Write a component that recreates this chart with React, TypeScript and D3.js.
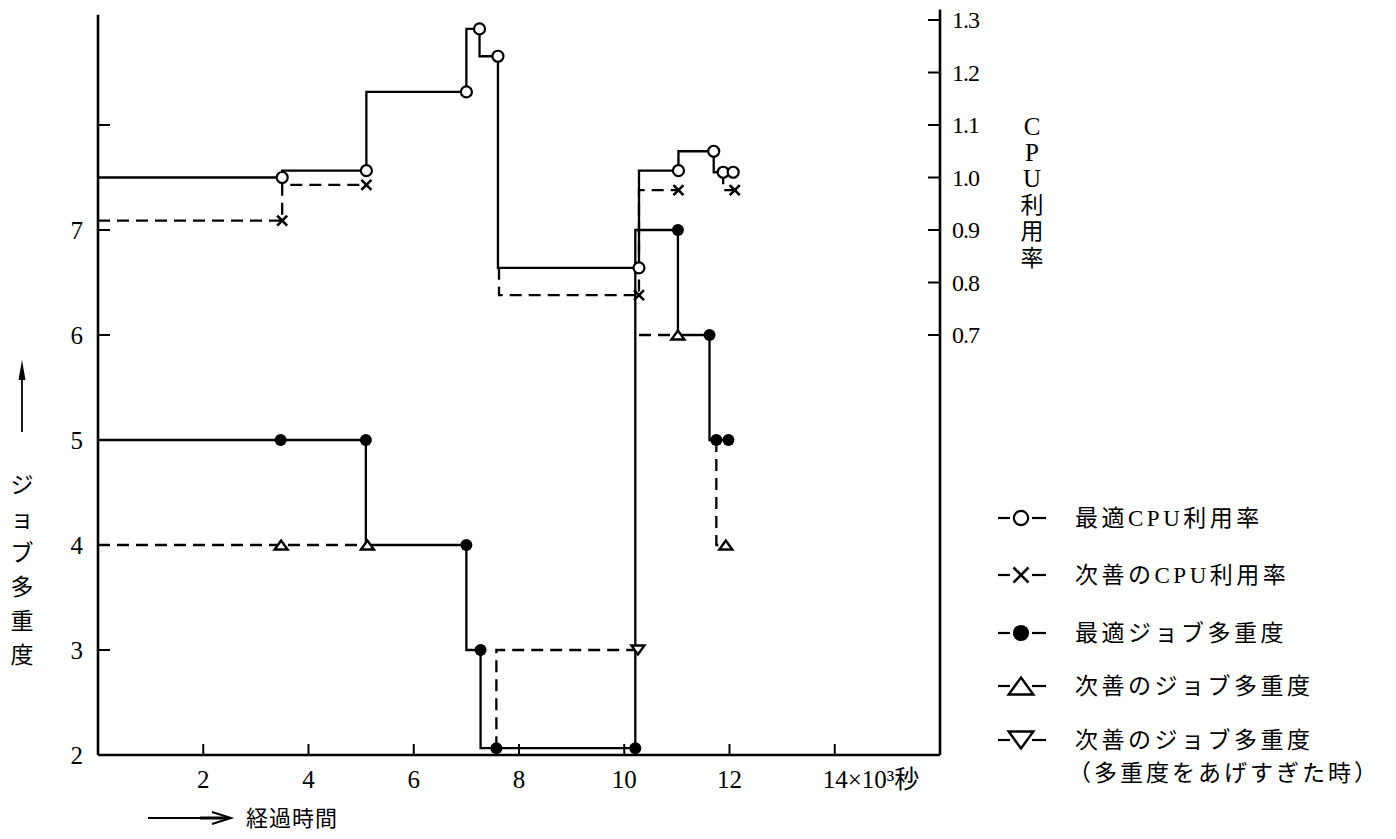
import React from 'react';
import * as d3 from 'd3';

const W = 1396;
const H = 839;

// ---- axis ticks ----
const xTickValues = [2, 4, 6, 8, 10, 12, 14];
const xTickLabels = ['2', '4', '6', '8', '10', '12', '14×10³秒'];
const jobTickValues = [3, 4, 5, 6, 7, 8];
const jobLabelValues = [2, 3, 4, 5, 6, 7];
const cpuTickValues = [0.7, 0.8, 0.9, 1.0, 1.1, 1.2, 1.3];
const cpuTickLabels = ['0.7', '0.8', '0.9', '1.0', '1.1', '1.2', '1.3'];

// ---- series: segments of [time(10^3 s), value, hasMarker] ----
type Pt = [number, number, number];

// 最適CPU利用率 (○, solid, right axis)
const cpuBest: Pt[][] = [[
  [0, 1.0, 0], [3.5, 1.0, 1], [5.1, 1.013, 1], [7.0, 1.163, 1], [7.25, 1.283, 1],
  [7.6, 1.231, 1], [10.28, 0.828, 1], [11.03, 1.013, 1], [11.7, 1.05, 1],
  [11.88, 1.01, 1], [12.07, 1.01, 1],
]];

// 次善のCPU利用率 (×, dashed, right axis)
const cpuNext: Pt[][] = [
  [[0, 0.918, 0], [3.5, 0.918, 1], [5.1, 0.986, 1]],
  [[7.62, 0.828, 0], [10.28, 0.776, 1], [11.03, 0.976, 1]],
  [[11.88, 1.01, 0], [12.1, 0.976, 1]],
];

// 最適ジョブ多重度 (●, solid, left axis)
const jobBest: Pt[][] = [[
  [0, 5, 0], [3.47, 5, 1], [5.09, 5, 1], [7.0, 4, 1], [7.27, 3, 1], [7.57, 2.065, 1],
  [10.21, 2.065, 1], [11.02, 7, 1], [11.62, 6, 1], [11.75, 5, 1], [11.98, 5, 1],
]];

// 次善のジョブ多重度 (△, dashed, left axis)
const jobNext: Pt[][] = [
  [[0, 4, 0], [3.48, 4, 1], [5.12, 4, 1]],
  [[10.28, 6, 0], [11.02, 6, 1]],
  [[11.75, 5, 0], [11.93, 4, 1]],
];

// 次善のジョブ多重度（多重度をあげすぎた時） (▽, dashed, left axis)
const jobOver: Pt[][] = [
  [[7.57, 2.065, 0], [10.26, 3, 1]],
];

const legendLabels = [
  '最適CPU利用率',
  '次善のCPU利用率',
  '最適ジョブ多重度',
  '次善のジョブ多重度',
  '次善のジョブ多重度',
];
const legendNote = '（多重度をあげすぎた時）';
const yLabelChars = ['ジ', 'ョ', 'ブ', '多', '重', '度'];
const rightLabelChars = ['C', 'P', 'U', '利', '用', '率'];
const xLabel = '経過時間';

const FONT = "'Liberation Serif', 'Noto Sans CJK JP', serif";
const JFONT = "'Liberation Serif', 'Noto Sans CJK JP', sans-serif";

const xScale = d3.scaleLinear().domain([0, 16]).range([98, 940]);
const yJob = d3.scaleLinear().domain([2, 9]).range([755, 20]);
const yCpu = d3.scaleLinear().domain([-0.1, 1.3]).range([755, 20]);

const stepPath = (y: d3.ScaleLinear<number, number>) =>
  d3.line<Pt>().x(d => xScale(d[0])).y(d => y(d[1])).curve(d3.curveStepBefore);

type Kind = 'circle' | 'cross' | 'dot' | 'tri' | 'itri';

function Marker({ kind, x, y, s = 1 }: { kind: Kind; x: number; y: number; s?: number }) {
  if (kind === 'circle') {
    return <circle cx={x} cy={y} r={5.5 * s} fill="#fff" stroke="#000" strokeWidth={2.2} />;
  }
  if (kind === 'dot') {
    return <circle cx={x} cy={y} r={6 * s} fill="#000" />;
  }
  if (kind === 'cross') {
    const a = 5 * s;
    return (
      <g stroke="#000" strokeWidth={2.6}>
        <line x1={x - a} y1={y - a} x2={x + a} y2={y + a} />
        <line x1={x - a} y1={y + a} x2={x + a} y2={y - a} />
      </g>
    );
  }
  const w = 6.5 * s;
  const h = 9 * s;
  if (kind === 'tri') {
    const p = `${x - w},${y + h / 2} ${x + w},${y + h / 2} ${x},${y - h / 2}`;
    return <polygon points={p} fill="#fff" stroke="#000" strokeWidth={2.4} strokeLinejoin="miter" />;
  }
  const p = `${x - w},${y - h / 2} ${x + w},${y - h / 2} ${x},${y + h / 2}`;
  return <polygon points={p} fill="#fff" stroke="#000" strokeWidth={2.4} strokeLinejoin="miter" />;
}

function Series({ data, y, dashed }: {
  data: Pt[][]; y: d3.ScaleLinear<number, number>; dashed: boolean;
}) {
  const gen = stepPath(y);
  return (
    <g>
      {data.map((seg, i) => (
        <path key={i} d={gen(seg) || ''} fill="none" stroke="#000" strokeWidth={2.3}
          strokeDasharray={dashed ? '12 7' : undefined} />
      ))}
    </g>
  );
}

function SeriesMarkers({ data, y, kind }: { data: Pt[][]; y: d3.ScaleLinear<number, number>; kind: Kind }) {
  return (
    <g>
      {data.flat().filter(d => d[2]).map((d, i) => (
        <Marker key={i} kind={kind} x={xScale(d[0])} y={y(d[1])} />
      ))}
    </g>
  );
}

export default function App() {
  const legendKinds: Kind[] = ['circle', 'cross', 'dot', 'tri', 'itri'];
  const legendY = [518, 575, 633, 686, 740];
  const legendScale = [1.3, 1.5, 1.35, 1.9, 1.9];
  const x0 = xScale(0);
  const x16 = xScale(16);
  const yb = yJob(2);
  return (
    <svg width={W} height={H} style={{ position: 'absolute', left: 0, top: 0, background: '#fff' }}
      fontFamily={FONT}>
      <rect x={0} y={0} width={W} height={H} fill="#fff" />
      {/* axes */}
      <g stroke="#000" strokeWidth={2.6} fill="none">
        <line x1={x0} y1={yJob(9.05)} x2={x0} y2={yb} />
        <line x1={x0} y1={yb} x2={x16} y2={yb} />
        <line x1={x16} y1={yCpu(1.32)} x2={x16} y2={yb} />
      </g>
      {/* ticks */}
      <g stroke="#000" strokeWidth={2}>
        {jobTickValues.map(v => (
          <line key={v} x1={x0} x2={x0 + 12} y1={yJob(v)} y2={yJob(v)} />
        ))}
        {cpuTickValues.map(v => (
          <line key={v} x1={x16 - 12} x2={x16} y1={yCpu(v)} y2={yCpu(v)} />
        ))}
        {xTickValues.map(v => (
          <line key={v} x1={xScale(v)} x2={xScale(v)} y1={yb} y2={yb - 11} />
        ))}
      </g>
      {/* tick labels */}
      <g fontSize={25} fill="#000">
        {jobLabelValues.map(v => (
          <text key={v} x={83} y={yJob(v)} textAnchor="end" dominantBaseline="central">{v}</text>
        ))}
        {cpuTickValues.map((v, i) => (
          <text key={v} x={952} y={yCpu(v)} dominantBaseline="central" fontSize={24}
            letterSpacing={-1}>{cpuTickLabels[i]}</text>
        ))}
        {xTickValues.map((v, i) => (
          i === xTickValues.length - 1 ? (
            <text key={v} x={xScale(v) - 12} y={788} textAnchor="start">{xTickLabels[i]}</text>
          ) : (
            <text key={v} x={xScale(v)} y={788} textAnchor="middle">{xTickLabels[i]}</text>
          )
        ))}
      </g>
      {/* right axis title */}
      <g fontSize={24} fill="#000" fontFamily={JFONT}>
        {rightLabelChars.map((c, i) => (
          <text key={i} x={1032} y={126 + i * 26.4} textAnchor="middle" dominantBaseline="central"
            fontSize={i < 3 ? 25 : 23}>{c}</text>
        ))}
      </g>
      {/* left axis title */}
      <g>
        <line x1={22} y1={432} x2={22} y2={372} stroke="#000" strokeWidth={1.8} />
        <polygon points="22,360 18.5,380 25.5,380" fill="#000" />
        {yLabelChars.map((c, i) => (
          <text key={i} x={22} y={485 + i * 34} textAnchor="middle" dominantBaseline="central"
            fontSize={23} fontFamily={JFONT}>{c}</text>
        ))}
      </g>
      {/* bottom axis title */}
      <g>
        <line x1={148} y1={818} x2={228} y2={818} stroke="#000" strokeWidth={1.8} />
        <polyline points="212,812 231,818 212,824" fill="none" stroke="#000" strokeWidth={2} />
        <line x1={200} y1={818} x2={229} y2={818} stroke="#000" strokeWidth={3} />
        <text x={246} y={818} dominantBaseline="central" fontSize={22} fontFamily={JFONT}
          letterSpacing={1}>{xLabel}</text>
      </g>
      {/* series lines */}
      <Series data={cpuBest} y={yCpu} dashed={false} />
      <Series data={cpuNext} y={yCpu} dashed={true} />
      <Series data={jobBest} y={yJob} dashed={false} />
      <Series data={jobNext} y={yJob} dashed={true} />
      <Series data={jobOver} y={yJob} dashed={true} />
      {/* markers */}
      <SeriesMarkers data={cpuBest} y={yCpu} kind="circle" />
      <SeriesMarkers data={cpuNext} y={yCpu} kind="cross" />
      <SeriesMarkers data={jobBest} y={yJob} kind="dot" />
      <SeriesMarkers data={jobNext} y={yJob} kind="tri" />
      <SeriesMarkers data={jobOver} y={yJob} kind="itri" />
      {/* legend */}
      <g>
        {legendKinds.map((k, i) => {
          const cy = legendY[i];
          const cx = 1021;
          return (
            <g key={i}>
              <line x1={998} x2={1010} y1={cy} y2={cy} stroke="#000" strokeWidth={2.2} />
              <line x1={1032} x2={1046} y1={cy} y2={cy} stroke="#000" strokeWidth={2.2} />
              <Marker kind={k} x={cx} y={cy} s={legendScale[i]} />
              <text x={1075} y={cy} dominantBaseline="central" fontSize={23} fontFamily={JFONT}
                letterSpacing={3.5}>{legendLabels[i]}</text>
            </g>
          );
        })}
        <text x={1068} y={773} dominantBaseline="central" fontSize={23} fontFamily={JFONT}
          letterSpacing={3}>{legendNote}</text>
      </g>
    </svg>
  );
}
